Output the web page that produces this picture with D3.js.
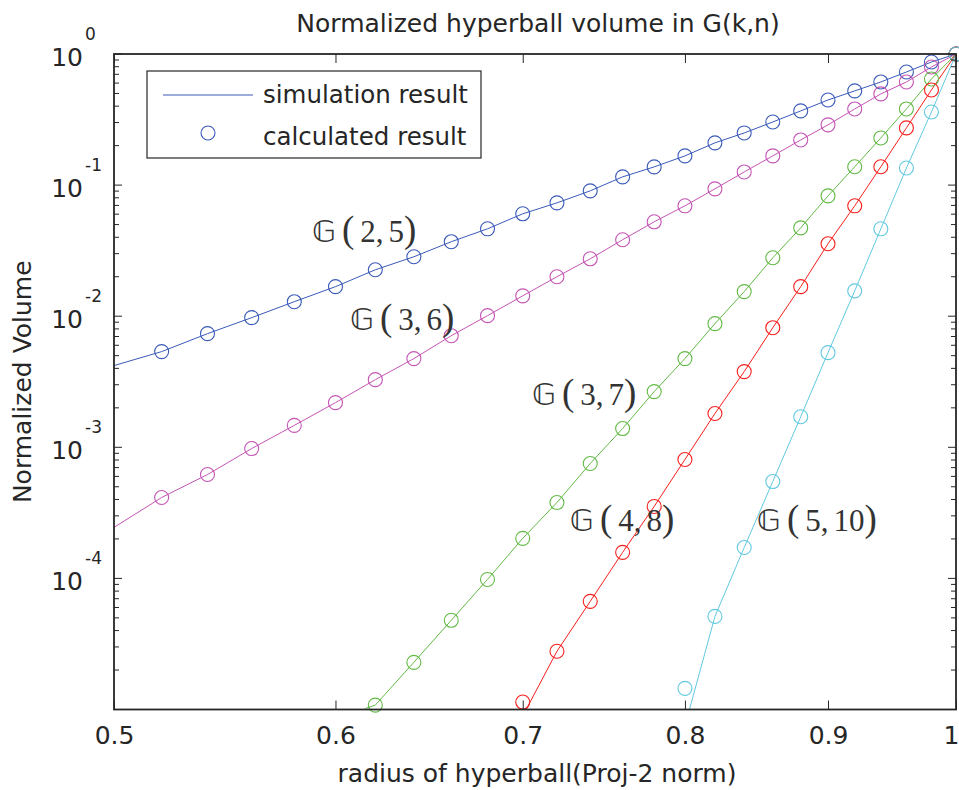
<!DOCTYPE html>
<html>
<head>
<meta charset="utf-8">
<script src="https://cdn.jsdelivr.net/npm/d3@7"></script>
<style>
  body { margin: 0; background: #fff; }
  text { font-family: "DejaVu Sans", sans-serif; fill: #262626; }
  .glabel { font-family: "Liberation Serif", "DejaVu Serif", serif; }
</style>
</head>
<body>
<script>
// radius grid of the calculated points
const radius = [0.52, 0.54, 0.56, 0.58, 0.60, 0.62, 0.64, 0.66, 0.68, 0.70, 0.72, 0.74, 0.76,
                0.78, 0.80, 0.82, 0.84, 0.86, 0.88, 0.90, 0.92, 0.94, 0.96, 0.98, 1.00];

// calculated result (circles), null = below the axis
const calcG25 = [5.37e-3, 7.36e-3, 9.75e-3, 1.29e-2, 1.68e-2, 2.26e-2, 2.84e-2, 3.70e-2, 4.64e-2, 6.04e-2,
                 7.32e-2, 9.04e-2, 0.1156, 0.1377, 0.167, 0.210, 0.250, 0.303, 0.368, 0.446,
                 0.523, 0.612, 0.729, 0.869, 1];
const calcG36 = [4.14e-4, 6.20e-4, 9.78e-4, 1.47e-3, 2.19e-3, 3.28e-3, 4.75e-3, 7.10e-3, 1.01e-2, 1.43e-2,
                 2.00e-2, 2.74e-2, 3.83e-2, 5.25e-2, 6.95e-2, 9.36e-2, 0.126, 0.167, 0.221, 0.288,
                 0.381, 0.496, 0.612, 0.796, 1];
const calcG37 = [null, null, null, null, null, 1.08e-5, 2.29e-5, 4.79e-5, 9.82e-5, 2.02e-4,
                 3.79e-4, 7.52e-4, 1.39e-3, 2.66e-3, 4.75e-3, 8.77e-3, 1.54e-2, 2.79e-2, 4.72e-2, 8.28e-2,
                 0.138, 0.229, 0.381, 0.645, 1];
const calcG48 = [null, null, null, null, null, null, null, null, null, 1.14e-5,
                 2.78e-5, 6.68e-5, 1.58e-4, 3.54e-4, 8.07e-4, 1.81e-3, 3.78e-3, 8.17e-3, 1.68e-2, 3.57e-2,
                 6.95e-2, 0.138, 0.273, 0.532, 1];
const calcG510 = [null, null, null, null, null, null, null, null, null, null,
                  null, null, null, null, 1.45e-5, 5.13e-5, 1.72e-4, 5.48e-4, 1.71e-3, 5.27e-3,
                  1.56e-2, 4.64e-2, 0.135, 0.361, 1];

// simulation result (lines): first radius where the curve enters the plot, and its value
const simStartR = [0.50, 0.50, 0.615, 0.702, 0.803];
const simStartV = [4.20e-3, 2.45e-4, 1.02e-5, 1.0e-5, 1.0e-5];

const seriesNames = ['G(2,5)', 'G(3,6)', 'G(3,7)', 'G(4,8)', 'G(5,10)'];
const seriesLabels = [['2', '5'], ['3', '6'], ['3', '7'], ['4', '8'], ['5', '10']];
const labelR = [0.5885, 0.6072, 0.7053, 0.7277, 0.8488];
const labelV = [3.7e-2, 7.89e-3, 2.12e-3, 2.28e-4, 2.28e-4];
const colors = ['#3a5ab8', '#c455b4', '#62ba45', '#f5201e', '#62c9e0'];

const xTicks = [0.5, 0.6, 0.7, 0.8, 0.9, 1];
const yExponents = [0, -1, -2, -3, -4];

const calcAll = [calcG25, calcG36, calcG37, calcG48, calcG510];

const width = 959, height = 790;
const m = { left: 114, right: 956, top: 54, bottom: 709.5 };

const svg = d3.select('body').append('svg')
    .attr('width', width)
    .attr('height', height);

const x = d3.scaleLog().domain([0.5, 1]).range([m.left, m.right]);
const y = d3.scaleLog().domain([1e-5, 1]).range([m.bottom, m.top]);

svg.append('clipPath').attr('id', 'plotclip')
    .append('rect')
    .attr('x', m.left).attr('y', m.top)
    .attr('width', m.right - m.left).attr('height', m.bottom - m.top);

const plot = svg.append('g').attr('clip-path', 'url(#plotclip)');

const line = d3.line()
    .defined(d => d[1] != null)
    .x(d => x(d[0]))
    .y(d => y(d[1]));

calcAll.forEach((vals, i) => {
    // simulation line
    const pts = [[simStartR[i], simStartV[i]]];
    radius.forEach((r, j) => {
        if (r > simStartR[i] + 1e-9 && vals[j] != null) pts.push([r, vals[j]]);
    });
    plot.append('path')
        .datum(pts)
        .attr('fill', 'none')
        .attr('stroke', colors[i])
        .attr('stroke-width', 1)
        .attr('d', line);
});

calcAll.forEach((vals, i) => {
    const pts = radius.map((r, j) => [r, vals[j]]).filter(d => d[1] != null);
    svg.append('g').selectAll('circle')
        .data(pts)
        .enter().append('circle')
        .attr('cx', d => x(d[0]))
        .attr('cy', d => y(d[1]))
        .attr('r', 7)
        .attr('fill', 'none')
        .attr('stroke', colors[i])
        .attr('stroke-width', 1.1);
});

// axes box
const axisColor = '#262626';
svg.append('rect')
    .attr('x', m.left).attr('y', m.top)
    .attr('width', m.right - m.left).attr('height', m.bottom - m.top)
    .attr('fill', 'none')
    .attr('stroke', axisColor)
    .attr('stroke-width', 1.8);

// x ticks (bottom and top, inward)
const xAxisBottom = d3.axisBottom(x).tickValues(xTicks).tickSize(-9).tickFormat(d3.format('.1~f'));
const gxb = svg.append('g').attr('transform', 'translate(0,' + m.bottom + ')').call(xAxisBottom);
gxb.select('.domain').remove();
gxb.selectAll('line').attr('stroke', axisColor);
gxb.selectAll('text')
    .attr('y', 34)
    .attr('dy', 0)
    .style('font-size', '25px')
    .style('fill', axisColor);
// last label sits at the right edge of the window
gxb.selectAll('text').filter(d => d === 1)
    .attr('text-anchor', 'end')
    .attr('x', width - m.right);

const gxt = svg.append('g').attr('transform', 'translate(0,' + m.top + ')')
    .call(d3.axisTop(x).tickValues(xTicks).tickSize(-9).tickFormat(''));
gxt.select('.domain').remove();
gxt.selectAll('line').attr('stroke', axisColor);

// y ticks: majors and minors on both sides
const minorVals = [];
for (const e of [-5, -4, -3, -2, -1]) {
    for (const k of [2, 3, 4, 5, 6, 7, 8, 9]) minorVals.push(k * Math.pow(10, e));
}
const majorVals = [1, 1e-1, 1e-2, 1e-3, 1e-4];

[[m.left, 1], [m.right, -1]].forEach(([px, dir]) => {
    const g = svg.append('g');
    g.selectAll('line.major')
        .data(majorVals)
        .enter().append('line')
        .attr('x1', px).attr('x2', px + dir * 8)
        .attr('y1', d => y(d)).attr('y2', d => y(d))
        .attr('stroke', axisColor).attr('stroke-width', 1);
    g.selectAll('line.minor')
        .data(minorVals)
        .enter().append('line')
        .attr('x1', px).attr('x2', px + dir * 5)
        .attr('y1', d => y(d)).attr('y2', d => y(d))
        .attr('stroke', axisColor).attr('stroke-width', 1);
});

// y tick labels 10^k
const ylab = svg.append('g');
yExponents.forEach(k => {
    const ty = y(Math.pow(10, k));
    ylab.append('text')
        .attr('x', 83).attr('y', ty + 12)
        .attr('text-anchor', 'end')
        .style('font-size', '25px')
        .text('10');
    ylab.append('text')
        .attr('x', 85).attr('y', ty - 14)
        .style('font-size', '17px')
        .text(k === 0 ? '0' : '-' + Math.abs(k));
});

// title and axis labels
svg.append('text')
    .attr('x', 538).attr('y', 32)
    .attr('text-anchor', 'middle')
    .style('font-size', '25px')
    .text('Normalized hyperball volume in G(k,n)');

svg.append('text')
    .attr('x', 537).attr('y', 782)
    .attr('text-anchor', 'middle')
    .style('font-size', '25px')
    .text('radius of hyperball(Proj-2 norm)');

svg.append('text')
    .attr('transform', 'translate(31,' + ((m.top + m.bottom) / 2) + ') rotate(-90)')
    .attr('text-anchor', 'middle')
    .style('font-size', '25px')
    .text('Normalized Volume');

// curve labels
seriesLabels.forEach((lab, i) => {
    const t = svg.append('text')
        .attr('class', 'glabel')
        .attr('x', x(labelR[i]))
        .attr('y', y(labelV[i]))
        .style('font-size', '31px')
        .style('fill', '#333');
    t.append('tspan').style('font-family', '"DejaVu Sans", sans-serif').style('font-size', '31px').text('\u{1D53E}');
    t.append('tspan').attr('dx', 6).style('font-size', '37px').text('(');
    t.append('tspan').attr('dx', 6).text(lab[0] + ',');
    t.append('tspan').attr('dx', 5).text(lab[1]);
    t.append('tspan').style('font-size', '37px').text(')');
});

// legend
const legend = svg.append('g');
legend.append('rect')
    .attr('x', 147).attr('y', 71)
    .attr('width', 334).attr('height', 87)
    .attr('fill', '#fff')
    .attr('stroke', axisColor)
    .attr('stroke-width', 1.2);
legend.append('line')
    .attr('x1', 163).attr('x2', 253)
    .attr('y1', 95).attr('y2', 95)
    .attr('stroke', colors[0]).attr('stroke-width', 1);
legend.append('circle')
    .attr('cx', 208).attr('cy', 133).attr('r', 7)
    .attr('fill', 'none').attr('stroke', colors[0]).attr('stroke-width', 1.1);
legend.append('text')
    .attr('x', 263).attr('y', 103)
    .style('font-size', '24.5px')
    .text('simulation result');
legend.append('text')
    .attr('x', 263).attr('y', 145)
    .style('font-size', '24.5px')
    .text('calculated result');
</script>
</body>
</html>
